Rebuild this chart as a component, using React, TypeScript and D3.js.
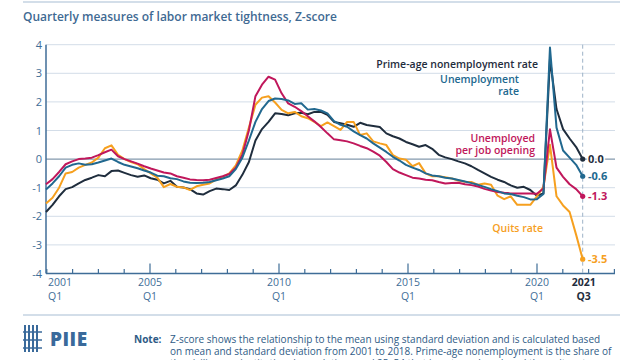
import React, { useEffect } from 'react';
import * as d3 from 'd3';

// quarterly z-scores, 2001Q1 .. 2021Q3
const primeAge = [
  -1.85, -1.6, -1.3, -1.05, -0.98, -0.85, -0.73, -0.65, -0.56, -0.6, -0.42, -0.4, -0.48, -0.56, -0.62, -0.57,
  -0.67, -0.72, -0.85, -0.76, -0.97, -0.99, -1.05, -1.2, -1.24, -1.12, -1.03, -1.05, -1.08, -0.92, -0.55, -0.1,
  0.65, 1.05, 1.3, 1.6, 1.58, 1.53, 1.6, 1.62, 1.57, 1.65, 1.65, 1.55, 1.3, 1.25, 1.2, 1.13,
  1.27, 1.19, 1.16, 1.12, 0.9, 0.8, 0.72, 0.6, 0.52, 0.43, 0.49, 0.36, 0.15, 0.06, 0.0, -0.08,
  -0.15, -0.25, -0.38, -0.5, -0.62, -0.72, -0.8, -0.92, -1.0, -0.97, -1.08, -1.28, -1.2, 3.5, 1.75, 1.05,
  0.72, 0.42, 0.0,
];
const unemployment = [
  -1.06, -0.85, -0.6, -0.3, -0.2, -0.15, -0.2, -0.18, -0.12, -0.05, 0.02, -0.1, -0.2, -0.26, -0.32, -0.4,
  -0.47, -0.58, -0.6, -0.67, -0.7, -0.78, -0.83, -0.84, -0.83, -0.8, -0.74, -0.68, -0.6, -0.35, 0.05, 0.65,
  1.3, 1.75, 2.03, 2.12, 2.1, 2.05, 1.93, 1.95, 1.73, 1.75, 1.7, 1.6, 1.33, 1.2, 1.13, 0.97,
  0.84, 0.72, 0.55, 0.4, 0.25, 0.08, -0.05, -0.2, -0.3, -0.38, -0.5, -0.57, -0.6, -0.65, -0.68, -0.73,
  -0.78, -0.84, -0.9, -0.97, -1.05, -1.12, -1.2, -1.22, -1.28, -1.33, -1.41, -1.4, -1.22, 3.9, 1.1, 0.3,
  0.05, -0.2, -0.6,
];
const perOpening = [
  -0.88, -0.7, -0.45, -0.18, -0.08, 0.0, 0.02, 0.05, 0.14, 0.24, 0.33, 0.1, 0.0, -0.08, -0.16, -0.25,
  -0.33, -0.4, -0.47, -0.5, -0.6, -0.65, -0.71, -0.73, -0.74, -0.72, -0.66, -0.6, -0.52, -0.3, 0.15, 1.0,
  2.2, 2.6, 2.88, 2.78, 2.3, 1.95, 1.83, 1.68, 1.5, 1.32, 1.12, 0.9, 0.69, 0.66, 0.62, 0.55,
  0.46, 0.38, 0.26, 0.12, -0.1, -0.35, -0.47, -0.56, -0.65, -0.68, -0.72, -0.74, -0.8, -0.85, -0.84, -0.83,
  -0.88, -0.91, -0.96, -1.04, -1.1, -1.15, -1.18, -1.2, -1.2, -1.2, -1.2, -1.21, -1.03, 1.04, -0.3, -0.62,
  -0.88, -1.05, -1.3,
];
const quits = [
  -1.55, -1.35, -1.0, -0.5, -0.45, -0.3, -0.2, -0.12, 0.05, 0.38, 0.48, 0.15, 0.0, -0.1, -0.18, -0.35,
  -0.5, -0.65, -0.98, -0.87, -0.97, -0.99, -1.08, -0.95, -0.9, -0.85, -0.72, -0.62, -0.5, -0.22, 0.3, 1.1,
  1.9, 2.15, 2.2, 1.98, 1.72, 1.6, 1.65, 1.5, 1.43, 1.3, 1.15, 1.28, 1.15, 1.02, 1.3, 1.3,
  0.84, 0.9, 0.62, 0.55, 0.49, 0.14, 0.02, -0.02, -0.25, -0.14, -0.5, -0.6, -0.6, -0.63, -0.68, -0.75,
  -0.79, -0.8, -0.9, -0.85, -0.9, -1.28, -1.4, -1.3, -1.6, -1.6, -1.6, -1.3, -0.97, 0.5, -1.3, -1.62,
  -1.85, -2.65, -3.5,
];

const yTicks = [-4, -3, -2, -1, 0, 1, 2, 3, 4];
const years = d3.range(2001, 2024);
const majorYears = [2005, 2010, 2015, 2020];
const yearLabels = [2001, 2005, 2010, 2015, 2020];

const noteLines = [
  'Z-score shows the relationship to the mean using standard deviation and is calculated based',
  'on mean and standard deviation from 2001 to 2018. Prime-age nonemployment is the share of',
  'the civilian noninstitutional population aged 25–54 that is not employed, and the quits rate',
];

const C = {
  prime: '#1f2d3d',
  unemp: '#21688f',
  opening: '#c0175b',
  quits: '#f6a01f',
  axis: '#3f6d97',
  grid: '#d3dde8',
  zero: '#8399ad',
};

const series = [
  { key: 'prime', data: primeAge, color: C.prime },
  { key: 'quits', data: quits, color: C.quits },
  { key: 'opening', data: perOpening, color: C.opening },
  { key: 'unemp', data: unemployment, color: C.unemp },
];

const FONT = '"Open Sans", sans-serif';

const App: React.FC = () => {
  useEffect(() => {
    document.body.style.margin = '0';
  }, []);

  const n = primeAge.length;
  const x = d3.scaleLinear().domain([0, n - 1]).range([46, 582.7]);
  const xYear = d3.scaleLinear().domain([2001, 2023]).range([46.8, 614.4]);
  const y = d3.scaleLinear().domain([-4, 4]).range([273.5, 44.7]);
  const right = 615;

  const line = d3
    .line<number>()
    .x((_, i) => x(i))
    .y((d) => y(d));

  const last = n - 1;
  const endLabels = [
    { text: '0.0', v: primeAge[last], color: C.prime },
    { text: '-0.6', v: unemployment[last], color: C.unemp },
    { text: '-1.3', v: perOpening[last], color: C.opening },
    { text: '-3.5', v: quits[last], color: C.quits },
  ];

  return (
    <svg width={640} height={360} style={{ display: 'block', fontFamily: FONT }}>
      <rect width={640} height={360} fill="#fff" />
      <line x1={23} x2={620} y1={2} y2={2} stroke="#c5d3e2" strokeWidth={1.5} />
      <text x={23} y={21} fontSize={12} fontWeight={600} fill="#3f6a93">
        Quarterly measures of labor market tightness, Z-score
      </text>

      {/* grid */}
      {yTicks.map((t) => (
        <g key={t}>
          <line
            x1={46}
            x2={right}
            y1={y(t)}
            y2={y(t)}
            stroke={t === 0 ? C.zero : C.grid}
            strokeWidth={t === 0 ? 1.2 : 1}
          />
          <text x={42} y={y(t) + 4} fontSize={11} textAnchor="end" fill={C.axis}>
            {t}
          </text>
        </g>
      ))}

      {/* dashed marker for latest quarter */}
      <line
        x1={x(last)}
        x2={x(last)}
        y1={y(4)}
        y2={y(-4)}
        stroke="#9db2c7"
        strokeWidth={1}
        strokeDasharray="4,3"
      />

      {/* axes */}
      <line x1={46} x2={46} y1={y(4)} y2={y(-4)} stroke={C.axis} strokeWidth={1.5} />
      <line x1={46} x2={right} y1={y(-4)} y2={y(-4)} stroke={C.axis} strokeWidth={1.5} />
      {years.map((yr) => (
        <line
          key={yr}
          x1={xYear(yr)}
          x2={xYear(yr)}
          y1={y(-4)}
          y2={y(-4) - (majorYears.includes(yr) ? 10 : 4.5)}
          stroke={C.axis}
          strokeWidth={1.2}
        />
      ))}
      {yearLabels.map((yr) => {
        const first = yr === 2001;
        const lx = first ? 48 : xYear(yr);
        const anchor = first ? 'start' : 'middle';
        return (
          <g key={yr} fontSize={10.5} fill={C.axis} textAnchor={anchor}>
            <text x={lx} y={286}>{yr}</text>
            <text x={lx} y={300}>Q1</text>
          </g>
        );
      })}
      <g textAnchor="middle" fontSize={10.5} fontWeight={700} fill="#1f2d3d">
        <text x={x(last) + 1} y={286}>2021</text>
        <text x={x(last) + 1} y={300}>Q3</text>
      </g>

      {/* series */}
      {series.map((s) => (
        <path
          key={s.key}
          d={line(s.data) || ''}
          fill="none"
          stroke={s.color}
          strokeWidth={2}
          strokeLinejoin="round"
        />
      ))}

      {endLabels.map((l) => (
        <g key={l.text}>
          <circle cx={x(last)} cy={y(l.v)} r={2.6} fill={l.color} />
          <text
            x={588}
            y={y(l.v) + 4}
            fontSize={11}
            fontWeight={700}
            fill={l.color}
            stroke="#fff"
            strokeWidth={3}
            paintOrder="stroke"
          >
            {l.text}
          </text>
        </g>
      ))}

      {/* series labels */}
      <g fontSize={10.5} fontWeight={600} textAnchor="end">
        <text x={538} y={68} fill={C.prime}>Prime-age nonemployment rate</text>
        <text x={519} y={83} fill={C.unemp}>Unemployment</text>
        <text x={519} y={95} fill={C.unemp}>rate</text>
        <text x={535} y={142} fill={C.opening}>Unemployed</text>
        <text x={535} y={154} fill={C.opening}>per job opening</text>
        <text x={543} y={232} fill={C.quits}>Quits rate</text>
      </g>

      {/* footer */}
      <line x1={23} x2={620} y1={315} y2={315} stroke="#c5d3e2" strokeWidth={1.5} />
      <g stroke="#3a6a9b">
        {[25, 29, 33, 37].map((cx) => (
          <line key={cx} x1={cx} x2={cx} y1={325} y2={352} strokeWidth={2} />
        ))}
        <line x1={23} x2={42} y1={332} y2={332} strokeWidth={1.5} />
        <line x1={23} x2={42} y1={340} y2={340} strokeWidth={1.5} />
        <line x1={23} x2={42} y1={348} y2={348} strokeWidth={1.5} />
      </g>
      <text x={50} y={346} fontSize={19} fontWeight={800} fill="#3a6a9b" letterSpacing={0.5}>
        PIIE
      </text>
      <text x={134} y={343} fontSize={10} fontWeight={700} fill="#2f5b86">
        Note:
      </text>
      <g fontSize={10} fill="#2f5b86">
        {noteLines.map((t, i) => (
          <text key={i} x={170} y={343 + i * 12}>
            {t}
          </text>
        ))}
      </g>
    </svg>
  );
};

export default App;
